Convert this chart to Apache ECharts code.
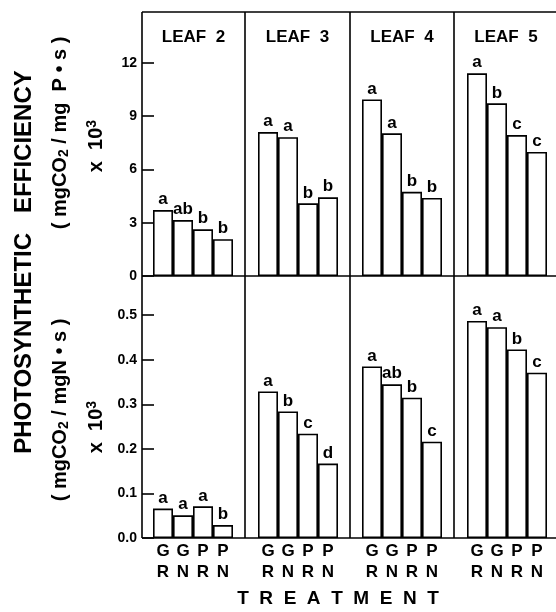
<!DOCTYPE html>
<html><head><meta charset="utf-8">
<script src="https://cdn.jsdelivr.net/npm/echarts@6/dist/echarts.min.js"></script>
<style>html,body{margin:0;padding:0;background:#fff}#c{width:556px;height:612px}</style>
</head><body><div id="c"></div>
<script>
// ---- data ----
const treatments = ['GR', 'GN', 'PR', 'PN'];
const leafNames = ['LEAF  2', 'LEAF  3', 'LEAF  4', 'LEAF  5'];

// phosphorus-based efficiency (x10^3)
const pEffLeaf2 = [3.71, 3.15, 2.63, 2.07];
const pEffLeaf3 = [8.10, 7.81, 4.09, 4.43];
const pEffLeaf4 = [9.94, 8.03, 4.74, 4.39];
const pEffLeaf5 = [11.41, 9.72, 7.93, 6.98];
const pSigLeaf2 = ['a', 'ab', 'b', 'b'];
const pSigLeaf3 = ['a', 'a', 'b', 'b'];
const pSigLeaf4 = ['a', 'a', 'b', 'b'];
const pSigLeaf5 = ['a', 'b', 'c', 'c'];

// nitrogen-based efficiency (x10^3)
const nEffLeaf2 = [0.066, 0.051, 0.071, 0.029];
const nEffLeaf3 = [0.329, 0.284, 0.234, 0.167];
const nEffLeaf4 = [0.385, 0.345, 0.315, 0.216];
const nEffLeaf5 = [0.487, 0.473, 0.423, 0.371];
const nSigLeaf2 = ['a', 'a', 'a', 'b'];
const nSigLeaf3 = ['a', 'b', 'c', 'd'];
const nSigLeaf4 = ['a', 'ab', 'b', 'c'];
const nSigLeaf5 = ['a', 'a', 'b', 'c'];

const pTickLabels = ['0', '3', '6', '9', '12'];
const nTickLabels = ['0.0', '0.1', '0.2', '0.3', '0.4', '0.5'];

// ---- layout ----
const FONT = '"Liberation Sans", Arial, sans-serif';
const panelLeft = [142, 245, 350, 454];
const panelRight = 558;
const barLeft = [153, 258, 362, 467];
const barAreaW = 80;
const rows = [
  { top: 12, height: 264, max: 14.86, interval: 3, vals: [pEffLeaf2, pEffLeaf3, pEffLeaf4, pEffLeaf5], sig: [pSigLeaf2, pSigLeaf3, pSigLeaf4, pSigLeaf5], ticks: pTickLabels, prec: 0 },
  { top: 276, height: 262, max: 0.588, interval: 0.1, vals: [nEffLeaf2, nEffLeaf3, nEffLeaf4, nEffLeaf5], sig: [nSigLeaf2, nSigLeaf3, nSigLeaf4, nSigLeaf5], ticks: nTickLabels, prec: 1 }
];

const grid = [], xAxis = [], yAxis = [], series = [];
rows.forEach((row, r) => {
  for (let c = 0; c < 4; c++) {
    const gi = grid.length;
    grid.push({ left: barLeft[c], width: barAreaW, top: row.top, height: row.height });
    xAxis.push({
      gridIndex: gi, type: 'category', data: treatments,
      axisLine: { show: false }, axisTick: { show: false },
      axisLabel: r === 1 ? {
        show: true, interval: 0, margin: 3,
        formatter: v => v[0] + '\n' + v[1],
        fontFamily: FONT, fontWeight: 'bold', fontSize: 17, lineHeight: 21, color: '#000'
      } : { show: false }
    });
    yAxis.push({
      gridIndex: gi, type: 'value', min: 0, max: row.max, interval: row.interval,
      show: c === 0, offset: barLeft[0] - panelLeft[0],
      axisLine: { show: false },
      axisTick: { show: true, inside: true, length: 12, lineStyle: { color: '#000', width: 1.6 } },
      splitLine: { show: false },
      axisLabel: {
        margin: 5, color: '#000', fontFamily: FONT, fontWeight: 'bold', fontSize: 14,
        showMaxLabel: false,
        formatter: v => {
          const s = v.toFixed(row.prec);
          return row.ticks.indexOf(s) >= 0 ? s : '';
        }
      }
    });
    const sig = row.sig[c];
    series.push({
      type: 'bar', xAxisIndex: gi, yAxisIndex: gi, data: row.vals[c],
      barCategoryGap: '0%', animation: false,
      itemStyle: { color: '#fff', borderColor: '#000', borderWidth: 1.6 },
      label: {
        show: true, position: 'top', distance: 2, color: '#000',
        fontFamily: FONT, fontWeight: 'bold', fontSize: 17,
        formatter: p => sig[p.dataIndex]
      }
    });
  }
});

const lineStyle = { stroke: '#000', lineWidth: 1.6 };
const graphic = [];
[[panelLeft[0], 12, panelRight, 12], [panelLeft[0], 276, panelRight, 276], [panelLeft[0], 538, panelRight, 538]]
  .forEach(s => graphic.push({ type: 'line', shape: { x1: s[0], y1: s[1], x2: s[2], y2: s[3] }, style: lineStyle, z: 10 }));
panelLeft.forEach(x => graphic.push({ type: 'line', shape: { x1: x, y1: 12, x2: x, y2: 538 }, style: lineStyle, z: 10 }));
leafNames.forEach((name, c) => {
  const right = c < 3 ? panelLeft[c + 1] : panelRight;
  graphic.push({ type: 'text', x: (panelLeft[c] + right) / 2, y: 37,
    style: { text: name, fill: '#000', font: 'bold 17px ' + FONT, textAlign: 'center', textVerticalAlign: 'middle' } });
});
const richStyles = {
  b: { fontFamily: FONT, fontWeight: 'bold', fontSize: 20, color: '#000', verticalAlign: 'middle' },
  sub: { fontFamily: FONT, fontWeight: 'bold', fontSize: 14, color: '#000', verticalAlign: 'bottom', padding: [8, 0, 0, 0] },
  sup: { fontFamily: FONT, fontWeight: 'bold', fontSize: 14, color: '#000', verticalAlign: 'top', padding: [0, 0, 8, 0] }
};
function vtext(txt, x, y, size, rich) {
  const st = { text: txt, fill: '#000', font: 'bold ' + size + 'px ' + FONT, textAlign: 'center', textVerticalAlign: 'middle' };
  if (rich) st.rich = richStyles;
  graphic.push({ type: 'text', x: x, y: y, rotation: Math.PI / 2, style: st });
}
vtext('PHOTOSYNTHETIC   EFFICIENCY', 24, 262, 24);
vtext('{b|( mgCO}{sub|2}{b| / mg  P \u2022 s )}', 60, 133, 20, true);
vtext('{b|x  10}{sup|3}', 96, 146, 20, true);
vtext('{b|( mgCO}{sub|2}{b| / mgN \u2022 s )}', 60, 410, 20, true);
vtext('{b|x  10}{sup|3}', 96, 427, 20, true);
graphic.push({ type: 'text', x: 338, y: 599,
  style: { text: 'T  R  E  A  T  M  E  N  T', fill: '#000', font: 'bold 19px ' + FONT, textAlign: 'center', textVerticalAlign: 'middle' } });

const chart = echarts.init(document.getElementById('c'), null, { renderer: 'canvas' });
chart.setOption({ animation: false, backgroundColor: '#fff', grid, xAxis, yAxis, series, graphic });
</script>
</body></html>
